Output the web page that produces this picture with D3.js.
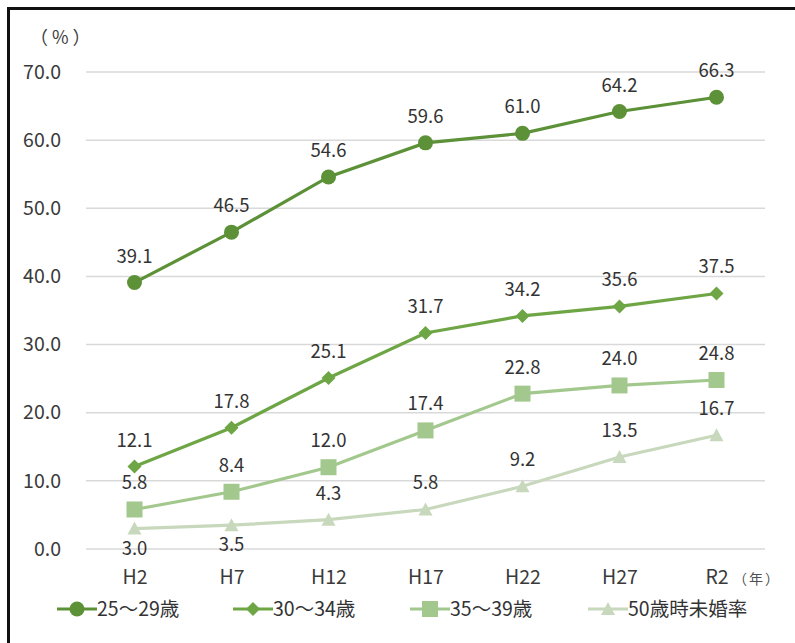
<!DOCTYPE html>
<html><head><meta charset="utf-8">
<script src="https://cdn.jsdelivr.net/npm/d3@7"></script>
<style>body{margin:0;background:#fff}svg{display:block}text{font-family:"Noto Sans CJK JP","Noto Sans",sans-serif}</style>
</head><body>
<svg id="c" width="795" height="643"></svg>
<script>
const categories = ["H2","H7","H12","H17","H22","H27","R2"];
const s25_29 = [39.1,46.5,54.6,59.6,61.0,64.2,66.3];
const s30_34 = [12.1,17.8,25.1,31.7,34.2,35.6,37.5];
const s35_39 = [5.8,8.4,12.0,17.4,22.8,24.0,24.8];
const s50 = [3.0,3.5,4.3,5.8,9.2,13.5,16.7];
const seriesNames = ["25～29歳","30～34歳","35～39歳","50歳時未婚率"];
const yTicks = [0,10,20,30,40,50,60,70];

const series = [
  {name:seriesNames[0], values:s25_29, color:"#5c9137", marker:"circle", below:[]},
  {name:seriesNames[1], values:s30_34, color:"#6ea545", marker:"diamond", below:[]},
  {name:seriesNames[2], values:s35_39, color:"#a3c88d", marker:"square", below:[]},
  {name:seriesNames[3], values:s50, color:"#c8d8bc", marker:"triangle", below:[0,1]}
];

const numFont = "'Open Sans','Noto Sans',sans-serif";
const svg = d3.select("#c");
svg.append("rect").attr("x",0).attr("y",0).attr("width",795).attr("height",643).attr("fill","#fff");
svg.append("path").attr("d","M8.5,643 V8.5 H795").attr("fill","none").attr("stroke","#111").attr("stroke-width",3);

const x = d3.scalePoint().domain(categories).range([86,765]).padding(0.5);
const y = d3.scaleLinear().domain([0,70]).range([549,72]);

const grid = svg.append("g");
grid.selectAll("line").data(yTicks).join("line")
  .attr("x1",86).attr("x2",765).attr("y1",d=>y(d)).attr("y2",d=>y(d))
  .attr("stroke","#d9d9d9").attr("stroke-width",1.5);

const yAxis = d3.axisLeft(y).tickValues(yTicks).tickFormat(d3.format(".1f")).tickSize(0).tickPadding(0);
const ya = svg.append("g").attr("transform","translate(61,0)").call(yAxis);
ya.select(".domain").remove();
ya.selectAll("text").attr("font-size",19.5).attr("fill","#3a3a3a").attr("font-family",numFont);

const xAxis = d3.axisBottom(x).tickSize(0).tickPadding(0);
const xa = svg.append("g").attr("transform","translate(0,570)").call(xAxis);
xa.select(".domain").remove();
xa.selectAll("text").attr("font-size",19.5).attr("fill","#3a3a3a").attr("font-family",numFont);

svg.append("text").attr("x",30).attr("y",44).attr("font-size",18).attr("fill","#404040").attr("letter-spacing",4).text("（%）");
svg.append("text").attr("x",733).attr("y",584).attr("font-size",14).attr("fill","#505050").attr("letter-spacing",2).text("（年）");

function marker(g, type, color, cx, cy){
  if(type==="circle") g.append("circle").attr("cx",cx).attr("cy",cy).attr("r",7.5).attr("fill",color);
  else if(type==="diamond") g.append("path").attr("d",`M${cx},${cy-7}L${cx+7},${cy}L${cx},${cy+7}L${cx-7},${cy}Z`).attr("fill",color);
  else if(type==="square") g.append("rect").attr("x",cx-8).attr("y",cy-8).attr("width",16).attr("height",16).attr("fill",color);
  else g.append("path").attr("d",`M${cx},${cy-7}L${cx+7},${cy+6}L${cx-7},${cy+6}Z`).attr("fill",color);
}

const line = d3.line().x((d,i)=>x(categories[i])).y(d=>y(d));
[...series].reverse().forEach(s=>{
  const g = svg.append("g");
  g.append("path").attr("d",line(s.values)).attr("fill","none").attr("stroke",s.color).attr("stroke-width",3.2);
  s.values.forEach((v,i)=>marker(g,s.marker,s.color,x(categories[i]),y(v)));
});
series.forEach(s=>{
  s.values.forEach((v,i)=>{
    const below = s.below.includes(i);
    svg.append("text").attr("x",x(categories[i])).attr("y",below? y(v)+26 : y(v)-20)
      .attr("text-anchor","middle").attr("font-size",18.5).attr("fill","#333")
      .attr("font-family",numFont)
      .text(d3.format(".1f")(v));
  });
});

const legX = [57,233,410,588];
series.forEach((s,i)=>{
  const g = svg.append("g");
  const lx = legX[i], ly = 609;
  g.append("line").attr("x1",lx).attr("x2",lx+40).attr("y1",ly).attr("y2",ly).attr("stroke",s.color).attr("stroke-width",3.2);
  marker(g,s.marker,s.color,lx+20,ly);
  g.append("text").attr("x",lx+40).attr("y",ly+7).attr("font-size",19.5).attr("fill","#333").text(s.name);
});
</script>
</body></html>
